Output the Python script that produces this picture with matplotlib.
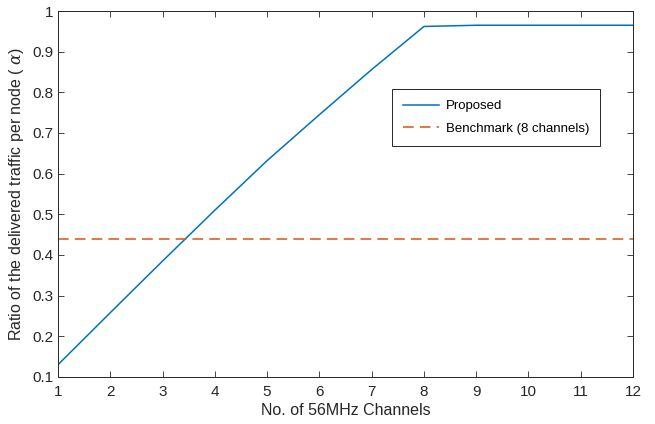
import matplotlib
matplotlib.use("Agg")
import matplotlib.pyplot as plt

plt.rcParams['font.family'] = ['Liberation Sans', 'DejaVu Sans']
plt.rcParams['mathtext.fontset'] = 'dejavuserif'

channels = [1, 2, 3, 4, 5, 6, 7, 8, 9, 10, 11, 12]
proposed = [0.13, 0.258, 0.385, 0.51, 0.632, 0.745, 0.856, 0.962, 0.965, 0.965, 0.965, 0.965]
benchmark = [0.44] * len(channels)

blue = (0, 0.447, 0.741)
orange = (0.85, 0.325, 0.098)
axcol = (0.15, 0.15, 0.15)

fig = plt.figure(figsize=(6.55, 4.24), dpi=100)
fig.set_facecolor('white')
ax = fig.add_axes([0.0885, 0.111, 0.878, 0.863])

ax.plot(channels, proposed, color=blue, lw=1.1, label='Proposed')
ax.plot(channels, benchmark, color=orange, lw=1.1, ls=(0, (7, 4)), label='Benchmark (8 channels)')

ax.set_xlim(1, 12)
ax.set_ylim(0.1, 1)
ax.set_xticks(channels)
ax.set_yticks([0.1, 0.2, 0.3, 0.4, 0.5, 0.6, 0.7, 0.8, 0.9, 1.0])
ax.set_yticklabels(['0.1', '0.2', '0.3', '0.4', '0.5', '0.6', '0.7', '0.8', '0.9', '1'])
ax.tick_params(direction='in', top=True, right=True, length=4, width=0.6,
               colors=axcol, labelsize=11)
ax.tick_params(axis='x', pad=6)
for s in ax.spines.values():
    s.set_color(axcol)
    s.set_linewidth(0.7)

ax.set_xlabel('No. of 56MHz Channels', fontsize=11.5, color=axcol, labelpad=3)
ax.set_ylabel(r'Ratio of the delivered traffic per node ( $\alpha$)', fontsize=11.5, color=axcol)

leg = ax.legend(loc='upper left', bbox_to_anchor=(0.581, 0.787), fontsize=9.5,
                fancybox=False, framealpha=1, edgecolor=axcol, borderaxespad=0,
                handlelength=2.7, handletextpad=0.5, labelspacing=0.75, borderpad=0.85)
leg.get_frame().set_linewidth(0.7)

plt.savefig('out.png', dpi=100)
